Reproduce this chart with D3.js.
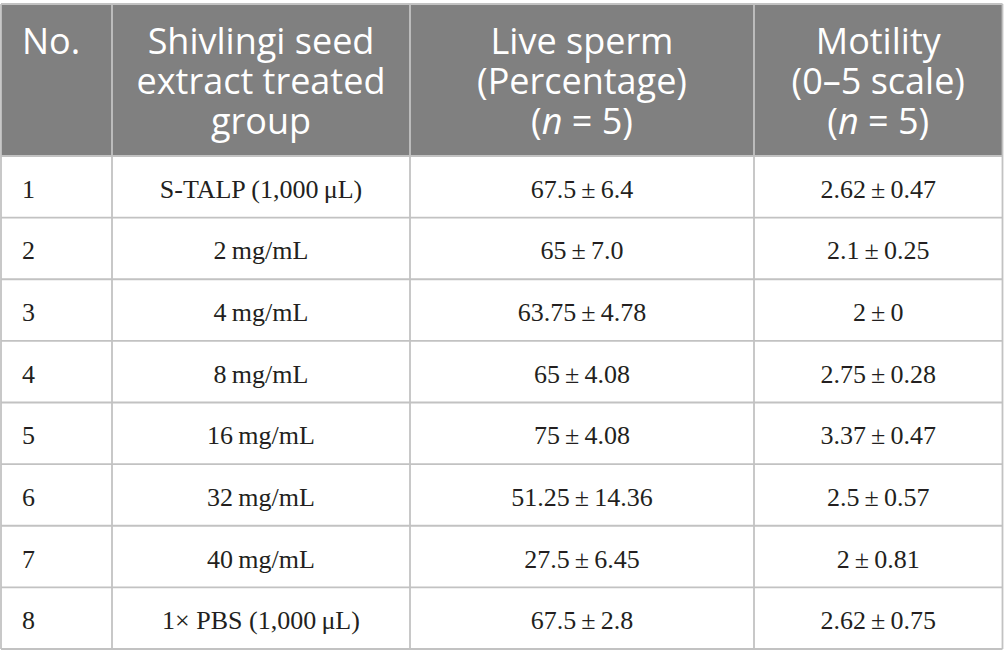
<!DOCTYPE html>
<html>
<head>
<meta charset="utf-8">
<script src="https://cdn.jsdelivr.net/npm/d3@7"></script>
<style>
  html, body { margin: 0; padding: 0; background: #ffffff; }
  svg { display: block; }
</style>
</head>
<body>
<svg id="chart" width="1004" height="667"></svg>
<script>
// ---- data ----
const rowNumbers = ["1", "2", "3", "4", "5", "6", "7", "8"];
const groups = [
  "S-TALP (1,000\u2009\u03bcL)",
  "2\u2009mg/mL",
  "4\u2009mg/mL",
  "8\u2009mg/mL",
  "16\u2009mg/mL",
  "32\u2009mg/mL",
  "40\u2009mg/mL",
  "1\u00d7 PBS (1,000\u2009\u03bcL)"
];
const liveMean = ["67.5", "65", "63.75", "65", "75", "51.25", "27.5", "67.5"];
const liveSd = ["6.4", "7.0", "4.78", "4.08", "4.08", "14.36", "6.45", "2.8"];
const motilityMean = ["2.62", "2.1", "2", "2.75", "3.37", "2.5", "2", "2.62"];
const motilitySd = ["0.47", "0.25", "0", "0.28", "0.47", "0.57", "0.81", "0.75"];
const headers = [
  [["No."]],
  [["Shivlingi seed"], ["extract treated"], ["group"]],
  [["Live sperm"], ["(Percentage)"], ["(", {i: "n"}, " = 5)"]],
  [["Motility"], ["(0\u20135 scale)"], ["(", {i: "n"}, " = 5)"]]
];

// ---- layout ----
const colEdges = [1, 112, 410, 754, 1002.5];
const headTop = 4, headBottom = 156, tableBottom = 649;
const svg = d3.select("#chart");

const y = d3.scaleLinear().domain([0, rowNumbers.length]).range([headBottom, tableBottom]);
const colX = d3.scaleOrdinal().domain([0, 1, 2, 3, 4]).range(colEdges);

const pm = (m, s) => m + "\u2009\u00b1\u2009" + s;
const rows = rowNumbers.map((n, i) => [n, groups[i], pm(liveMean[i], liveSd[i]), pm(motilityMean[i], motilitySd[i])]);

// header background
svg.append("rect")
  .attr("x", colEdges[0]).attr("y", headTop)
  .attr("width", colEdges[4] - colEdges[0]).attr("height", headBottom - headTop)
  .attr("fill", "#808080");

// header text
const headBaselines = [53.5, 93.5, 133.5];
headers.forEach((lines, c) => {
  const left = c === 0;
  const x = left ? 22 : (colX(c) + colX(c + 1)) / 2;
  lines.forEach((parts, li) => {
    const t = svg.append("text")
      .attr("x", x).attr("y", headBaselines[li])
      .attr("text-anchor", left ? "start" : "middle")
      .attr("font-family", "'Open Sans', sans-serif")
      .attr("font-size", 36)
      .attr("fill", "#ffffff");
    parts.forEach(p => {
      if (typeof p === "string") t.append("tspan").text(p);
      else t.append("tspan").attr("font-style", "italic").text(p.i);
    });
  });
});

// body text
rows.forEach((r, i) => {
  const cy = (y(i) + y(i + 1)) / 2;
  r.forEach((txt, c) => {
    const left = c === 0;
    svg.append("text")
      .attr("x", left ? 22 : (colX(c) + colX(c + 1)) / 2)
      .attr("y", cy + 11)
      .attr("text-anchor", left ? "start" : "middle")
      .attr("font-family", "'Liberation Serif', 'Times New Roman', serif")
      .attr("font-size", 26)
      .attr("fill", "#231f20")
      .text(txt);
  });
});

// grid lines
const lineColor = "#c2c2c2";
const g = svg.append("g").attr("stroke", lineColor).attr("stroke-width", 1.8).attr("fill", "none");
// horizontal lines between body rows
d3.range(1, rowNumbers.length).forEach(i => {
  g.append("line").attr("x1", colEdges[0]).attr("x2", colEdges[4]).attr("y1", y(i)).attr("y2", y(i));
});
// header bottom
g.append("line").attr("x1", colEdges[0]).attr("x2", colEdges[4]).attr("y1", headBottom).attr("y2", headBottom);
// vertical lines
colEdges.forEach(xv => {
  g.append("line").attr("x1", xv).attr("x2", xv).attr("y1", headTop).attr("y2", tableBottom);
});
// outer top/bottom
g.append("line").attr("x1", colEdges[0]).attr("x2", colEdges[4]).attr("y1", headTop).attr("y2", headTop);
g.append("line").attr("x1", colEdges[0]).attr("x2", colEdges[4]).attr("y1", tableBottom).attr("y2", tableBottom);
</script>
</body>
</html>
